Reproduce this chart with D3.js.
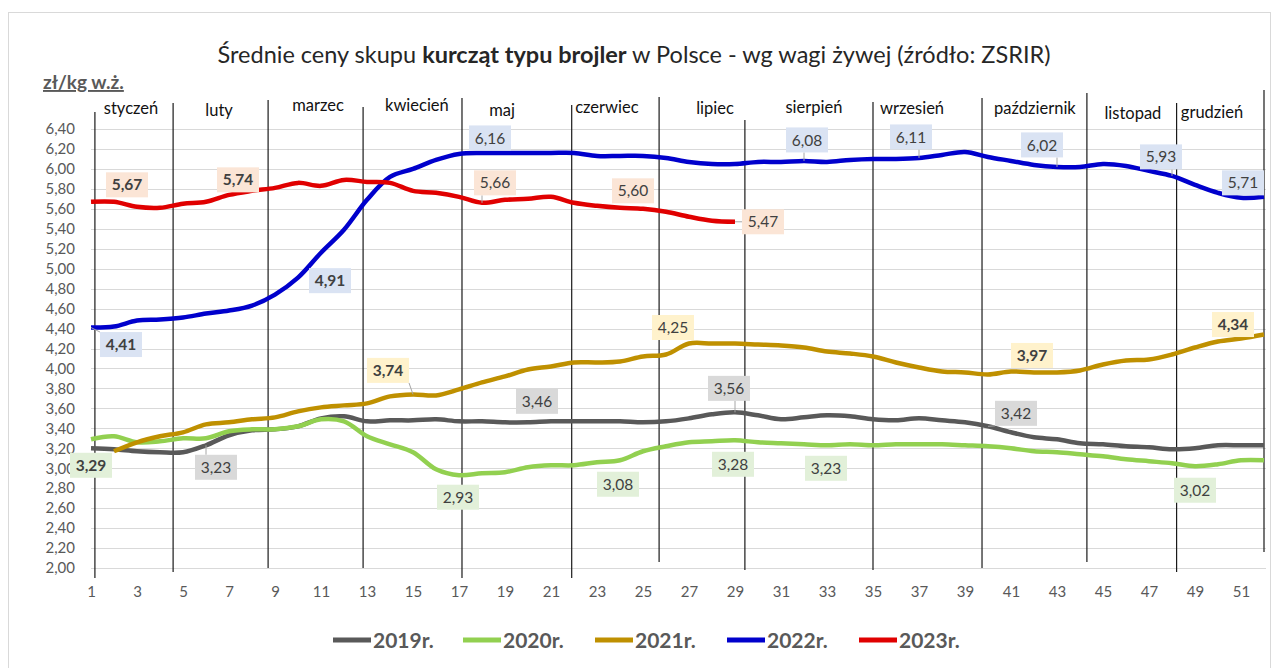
<!DOCTYPE html>
<html>
<head>
<meta charset="utf-8">
<script src="https://cdn.jsdelivr.net/npm/d3@7"></script>
<style>
  body { margin: 0; background: #fff; }
  svg text { font-family: Lato, "Open Sans", sans-serif; }
</style>
</head>
<body>
<div id="viz"></div>
<script>
// weekly prices, zl/kg live weight
var weeks = d3.range(1, 53);

var y2019 = [3.20,3.19,3.17,3.16,3.16,3.23,3.33,3.38,3.39,3.42,
             3.50,3.52,3.47,3.48,3.48,3.49,3.47,3.47,3.46,3.46,
             3.47,3.47,3.47,3.47,3.46,3.47,3.50,3.54,3.56,3.53,
             3.49,3.51,3.53,3.52,3.49,3.48,3.50,3.48,3.46,3.42,
             3.36,3.31,3.29,3.25,3.24,3.22,3.21,3.19,3.20,3.23,
             3.23,3.23];
var y2020 = [3.29,3.32,3.26,3.27,3.30,3.30,3.37,3.39,3.39,3.42,
             3.49,3.47,3.32,3.24,3.16,2.99,2.93,2.95,2.96,3.01,
             3.03,3.03,3.06,3.08,3.17,3.22,3.26,3.27,3.28,3.26,
             3.25,3.24,3.23,3.24,3.23,3.24,3.24,3.24,3.23,3.22,
             3.20,3.17,3.16,3.14,3.12,3.09,3.07,3.05,3.02,3.04,
             3.08,3.08];
var y2021 = [null,3.17,3.26,3.32,3.36,3.44,3.46,3.49,3.51,3.57,
             3.61,3.63,3.65,3.72,3.74,3.73,3.79,3.86,3.92,3.99,
             4.02,4.06,4.06,4.07,4.12,4.14,4.25,4.25,4.25,4.24,
             4.23,4.21,4.17,4.15,4.12,4.06,4.01,3.97,3.96,3.94,
             3.97,3.96,3.96,3.98,4.04,4.08,4.09,4.14,4.21,4.27,
             4.30,4.34];
var y2022 = [4.41,4.42,4.48,4.49,4.51,4.55,4.58,4.63,4.74,4.91,
             5.16,5.39,5.69,5.92,6.00,6.09,6.15,6.16,6.16,6.16,
             6.16,6.16,6.13,6.13,6.13,6.11,6.07,6.05,6.05,6.07,
             6.07,6.08,6.07,6.09,6.10,6.10,6.11,6.14,6.17,6.12,
             6.08,6.04,6.02,6.02,6.05,6.03,5.98,5.93,5.84,5.76,
             5.71,5.72];
var y2023 = [5.67,5.67,5.62,5.61,5.65,5.67,5.74,5.78,5.81,5.86,
             5.83,5.89,5.87,5.86,5.78,5.76,5.72,5.66,5.69,5.70,
             5.72,5.66,5.63,5.61,5.60,5.57,5.52,5.48,5.47];

var years = ["2019r.", "2020r.", "2021r.", "2022r.", "2023r."];
var values = [y2019, y2020, y2021, y2022, y2023];

// weeks that carry a data label, per year
var labelWeeks = [[6, 20, 29, 40], [1, 17, 24, 29, 33, 49], [15, 27, 41, 52],
                  [1, 10, 18, 32, 37, 43, 48, 51], [2, 7, 18, 25, 29]];

var months = ["styczeń","luty","marzec","kwiecień","maj","czerwiec","lipiec",
              "sierpień","wrzesień","październik","listopad","grudzień"];
// month label centres and divider lines, in week units
var monthCenter = [2.74,6.57,10.87,15.17,18.87,23.43,28.13,32.43,36.7,42.04,46.3,49.74];
var dividers = [1.17,4.57,8.7,12.83,17.13,21.9,25.7,29.43,35.0,39.74,44.3,48.2,52.0];

var yTicks = d3.range(2.0, 6.41, 0.2);
var xTicks = d3.range(1, 52, 2);

// ---- styling / layout
var colors = ["#595959", "#92d050", "#bf9000", "#0000cc", "#e00000"];
var boxFill = ["#d9d9d9", "#e2f0d9", "#fff2cc", "#dae3f3", "#fbe5d6"];
var monthY = [108,110,105,105,110,107,108,107,108,108,113,112];
var divTop = [112,103,100,107,98,105,97,120,102,98,93,103,90];
var divBot = [578,572,568,568,578,578,562,570,570,568,562,572,552];
// label offsets from the point [dx, dy, leader?]
var labelOff = {
  "0-6":[10,22,1], "0-20":[9,-21,0], "0-29":[-6,-24,1], "0-40":[28,-13,1],
  "1-1":[0,26,0], "1-17":[-1,22,0], "1-24":[-2,24,0], "1-29":[-2,24,0], "1-33":[-1,23,0], "1-49":[0,24,0],
  "2-15":[-25,-24,1], "2-27":[-16,-16,0], "2-41":[21,-16,0], "2-52":[-31,-10,0],
  "3-1":[30,17,1], "3-10":[32,3,0], "3-18":[8,-15,0], "3-32":[3,-21,1], "3-37":[-8,-21,1],
  "3-43":[-15,-22,1], "3-48":[-11,-19,1], "3-51":[2,-15,0],
  "4-2":[13,-17,0], "4-7":[9,-15,0], "4-18":[13,-20,1], "4-25":[-10,-18,0], "4-29":[28,0,1]
};
var boldLabels = ["3-1","3-10","4-2","4-7","1-1","2-15","2-41","2-52"];

var W = 1276, H = 668;
var x = d3.scaleLinear().domain([1, 52]).range([91, 1264]);
var y = d3.scaleLinear().domain([2.0, 6.4]).range([568, 129]);
var fmt = d3.formatLocale({decimal: ",", thousands: " ", grouping: [3], currency: ["", " zł"]}).format(".2f");

var svg = d3.select("#viz").append("svg")
  .attr("width", W).attr("height", H);

svg.append("rect")
  .attr("x", 8.5).attr("y", 12.5).attr("width", 1262).attr("height", 670)
  .attr("fill", "#fff").attr("stroke", "#d9d9d9");

// title
var title = svg.append("text")
  .attr("x", 634).attr("y", 63)
  .attr("text-anchor", "middle")
  .attr("font-size", 23.5).attr("fill", "#262626");
title.append("tspan").text("Średnie ceny skupu ");
title.append("tspan").attr("font-weight", "bold").text("kurcząt typu brojler");
title.append("tspan").text(" w Polsce - wg wagi żywej (źródło: ZSRIR)");

svg.append("text")
  .attr("x", 43).attr("y", 89)
  .attr("font-size", 19).attr("font-weight", "bold")
  .attr("fill", "#595959").attr("text-decoration", "underline")
  .text("zł/kg w.ż.");

// gridlines
svg.append("g").selectAll("line")
  .data(yTicks).enter().append("line")
  .attr("x1", x(1)).attr("x2", x(52) + 2)
  .attr("y1", function(d){ return Math.round(y(d)) + 0.5; })
  .attr("y2", function(d){ return Math.round(y(d)) + 0.5; })
  .attr("stroke", "#d9d9d9").attr("stroke-width", 1);

// axes (labels only)
var yAxis = svg.append("g")
  .attr("transform", "translate(" + x(1) + ",0)")
  .call(d3.axisLeft(y).tickValues(yTicks).tickSize(0).tickPadding(16).tickFormat(fmt));
yAxis.select(".domain").remove();
yAxis.selectAll("text").attr("font-size", 15).attr("fill", "#595959")
  .style("font-family", "Lato, sans-serif");

var xAxis = svg.append("g")
  .attr("transform", "translate(0," + y(2.0) + ")")
  .call(d3.axisBottom(x).tickValues(xTicks).tickSize(0).tickPadding(18).tickFormat(d3.format("d")));
xAxis.select(".domain").remove();
xAxis.selectAll("text").attr("font-size", 15).attr("fill", "#595959")
  .style("font-family", "Lato, sans-serif");

// month dividers and names
svg.append("g").selectAll("line")
  .data(dividers).enter().append("line")
  .attr("x1", function(d){ return x(d); }).attr("x2", function(d){ return x(d); })
  .attr("y1", function(d, i){ return divTop[i]; })
  .attr("y2", function(d, i){ return divBot[i]; })
  .attr("stroke", "#1a1a1a").attr("stroke-width", 1.2);

svg.append("g").selectAll("text")
  .data(months).enter().append("text")
  .attr("x", function(d, i){ return x(monthCenter[i]); })
  .attr("y", function(d, i){ return monthY[i] + 6; })
  .attr("text-anchor", "middle")
  .attr("font-size", 16.5).attr("fill", "#111")
  .text(function(d){ return d; });

// series lines
var line = d3.line()
  .defined(function(d){ return d != null; })
  .x(function(d, i){ return x(weeks[i]); })
  .y(function(d){ return y(d); })
  .curve(d3.curveCatmullRom.alpha(0.5));

svg.append("g").selectAll("path")
  .data(values).enter().append("path")
  .attr("d", line)
  .attr("fill", "none")
  .attr("stroke", function(d, i){ return colors[i]; })
  .attr("stroke-width", 4.5)
  .attr("stroke-linejoin", "round");

// data labels
var labels = [];
labelWeeks.forEach(function(ws, s){
  ws.forEach(function(w){
    var key = s + "-" + w, off = labelOff[key];
    labels.push({s: s, w: w, v: values[s][w - 1], px: x(w), py: y(values[s][w - 1]),
                 cx: x(w) + off[0], cy: y(values[s][w - 1]) + off[1], leader: off[2],
                 bold: boldLabels.indexOf(key) >= 0});
  });
});

var bw = 42, bh = 25;
var lg = svg.append("g");
labels.forEach(function(d){
  if (!d.leader) return;
  var ex = Math.max(d.cx - bw/2, Math.min(d.px, d.cx + bw/2));
  var ey = Math.max(d.cy - bh/2, Math.min(d.py, d.cy + bh/2));
  lg.append("line")
    .attr("x1", d.px).attr("y1", d.py).attr("x2", ex).attr("y2", ey)
    .attr("stroke", "#a6a6a6").attr("stroke-width", 1);
});

var lab = svg.append("g").selectAll("g")
  .data(labels).enter().append("g")
  .attr("transform", function(d){ return "translate(" + d.cx + "," + d.cy + ")"; });
lab.append("rect")
  .attr("x", -bw/2).attr("y", -bh/2).attr("width", bw).attr("height", bh)
  .attr("fill", function(d){ return boxFill[d.s]; });
lab.append("text")
  .attr("text-anchor", "middle").attr("dy", "0.36em")
  .attr("font-size", 15.5)
  .attr("font-weight", function(d){ return d.bold ? "bold" : "normal"; })
  .attr("fill", "#404040")
  .text(function(d){ return fmt(d.v); });

// legend
var legendX = [333, 463, 595, 727, 859];
var leg = svg.append("g").selectAll("g")
  .data(years).enter().append("g")
  .attr("transform", function(d, i){ return "translate(" + legendX[i] + ",640)"; });
leg.append("line")
  .attr("x1", 0).attr("x2", 38).attr("y1", 0).attr("y2", 0)
  .attr("stroke", function(d, i){ return colors[i]; })
  .attr("stroke-width", 5);
leg.append("text")
  .attr("x", 40).attr("dy", "0.36em")
  .attr("font-size", 21).attr("font-weight", "bold").attr("fill", "#595959")
  .text(function(d){ return d; });
</script>
</body>
</html>
